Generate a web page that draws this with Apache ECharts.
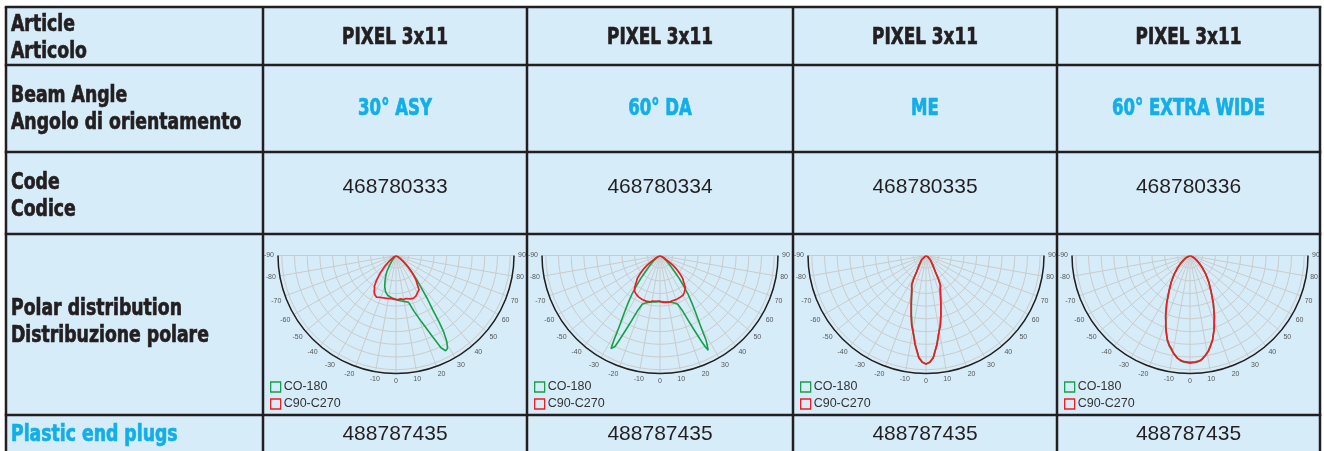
<!DOCTYPE html>
<html><head><meta charset="utf-8">
<script src="https://cdn.jsdelivr.net/npm/echarts@6/dist/echarts.min.js"></script>
<style>html,body{margin:0;padding:0;background:#fff;}#c{width:1324px;height:451px;}</style>
</head><body><div id="c"></div>
<script>
// ---------- table content ----------
const rowLabels = [['Article', 'Articolo'], ['Beam Angle', 'Angolo di orientamento'], ['Code', 'Codice'], ['Polar distribution', 'Distribuzione polare'], ['Plastic end plugs']];
const articles = ['PIXEL 3x11', 'PIXEL 3x11', 'PIXEL 3x11', 'PIXEL 3x11'];
const beamAngles = ['30° ASY', '60° DA', 'ME', '60° EXTRA WIDE'];
const codes = ['468780333', '468780334', '468780335', '468780336'];
const plugs = ['488787435', '488787435', '488787435', '488787435'];
const seriesNames = ['CO-180', 'C90-C270'];
const angleTickLabels = ['-90','-80','-70','-60','-50','-40','-30','-20','-10','0','10','20','30','40','50','60','70','80','90'];

// ---------- polar curves: [angle (deg), intensity] ----------
const asyC0 = [[-90,0],[-60,0.5],[-45,1.9],[-38,4.7],[-33,9.3],[-30,14],[-27,17.7],[-23,22.3],[-20,26],[-16,29.8],[-12,32],[-6,33.5],[0,34.4],[5,35.8],[10,36.7],[15,38.1],[18,46.5],[21,55.8],[24,68.8],[26,80.9],[27.5,84.6],[29,83.7],[30.5,79],[32,70.7],[33,62.3],[34,52],[36,41.9],[38,32.6],[41,24.2],[44,17.7],[47,12],[50,7.4],[55,2.8],[60,0.9],[90,0]];
const asyC90 = [[-90,0],[-60,0.9],[-55,2.8],[-50,6.5],[-46,12.1],[-42,18.6],[-38,25.1],[-35,29.8],[-33,31],[-31,33.5],[-30,32.8],[-28,35.3],[-25,36.2],[-23,35.9],[-20,35.2],[-18,34.9],[-14,34.6],[-10,34.4],[-8,35.2],[-6,34.2],[-4,35],[-2,34.6],[0,35.6],[2,35],[4,34.2],[6,34.4],[8,35.4],[10,35.2],[13,34.8],[15,35.3],[18,35.9],[20,35.8],[22,36.4],[24,35.5],[26,35.7],[28,35],[31,33.5],[33,33.9],[34,32.5],[36,28.8],[39,25.1],[42,20.5],[45,15.8],[48,11.2],[51,7.4],[55,3.7],[60,1.4],[90,0]];
const daC0 = [[-90,0],[-60,1.4],[-55,3.3],[-50,6.5],[-45,12.1],[-42,17.7],[-40,23.3],[-38,29.8],[-35.8,38.1],[-34,44.6],[-32.2,52.1],[-31,57.7],[-29.6,66],[-28.5,76.3],[-27.8,82.8],[-27,83.7],[-26.3,80],[-25.5,72.5],[-24.5,63.2],[-23.5,55.8],[-22,46.5],[-20,40.9],[-17,39.1],[-14,38.1],[-10,37.2],[-5,36.7],[0,36.3],[5,36.7],[10,37.2],[14,38.1],[17,39.1],[20,40.9],[22,46.5],[23.5,55.8],[24.5,63.2],[25.5,72.5],[26.3,80],[27,83.7],[27.8,82.8],[28.5,76.3],[29.6,66],[31,57.7],[32.2,52.1],[34,44.6],[35.8,38.1],[38,29.8],[40,23.3],[42,17.7],[45,12.1],[50,6.5],[55,3.3],[60,1.4],[90,0]];
const daC90 = [[-90,0],[-62,1.4],[-58,4.2],[-55,8.4],[-53,13],[-50,17.7],[-48,20.5],[-45,25.1],[-41,28.8],[-38,32.6],[-36,33.5],[-35,34.8],[-34,33.6],[-33,35.3],[-31,36],[-30,36.3],[-27,36.8],[-25,36.4],[-22,37.4],[-20,36.9],[-17,37.6],[-15,36.8],[-12,37.3],[-9,36.4],[-7,37.4],[-5,36.2],[-3,37],[-1,36],[0,37.5],[1,36.2],[3,36.9],[5,36.1],[7,37.2],[9,36.5],[12,37.4],[15,36.9],[17,37.6],[20,37],[22,37.5],[25,36.6],[27,36.9],[30,36.2],[31,35.5],[32,36.4],[33,35],[35,33.9],[36,34.3],[38,32.6],[41,28.8],[45,25.1],[48,20.5],[50,17.7],[53,13],[55,8.4],[58,4.2],[62,1.4],[90,0]];
const meC0 = [[-90,0],[-65,0.7],[-55,1.9],[-45,4.7],[-40,6.5],[-35,9.3],[-30,14.6],[-28,20.5],[-26,25.6],[-23,28.4],[-20,33],[-17,39.4],[-14,47.6],[-11.7,55.2],[-9.5,61],[-7,70.2],[-4,80.3],[-2,84],[0,85.6],[2,84.2],[4,80.9],[7,70.7],[9.5,61.4],[11.7,55.8],[14,48.4],[17,40],[20,33.5],[23,28.8],[26,26],[28,20.5],[30,14.6],[35,9.3],[40,6.5],[45,4.7],[55,1.9],[65,0.7],[90,0]];
const meC90 = [[-90,0],[-65,0.7],[-55,1.9],[-45,4.7],[-40,6.5],[-35,9.3],[-30,14.6],[-28,20.5],[-26,26],[-23,28.8],[-20,33.5],[-17,40],[-14,48.4],[-11.7,55.8],[-9.5,61.4],[-7,70.7],[-4,80.9],[-2,84.2],[0,85.6],[2,84.2],[4,80.9],[7,70.7],[9.5,61.4],[11.7,55.8],[14,48.4],[17,40],[20,33.5],[23,28.8],[26,26],[28,20.5],[30,14.6],[35,9.3],[40,6.5],[45,4.7],[55,1.9],[65,0.7],[90,0]];
const ewC0 = [[-90,0],[-70,1.1],[-60,3.7],[-55,6],[-50,9.3],[-45,14],[-40,19.5],[-35,26],[-30,33.5],[-26,41.9],[-22,51.2],[-18,61.4],[-15,69.2],[-13,73],[-11,76],[-9,79],[-7,81.5],[-5,83.4],[-3,84.2],[0,84.8],[3,84.4],[5,83.6],[7,81.8],[9,79.4],[11,76.4],[13,72.8],[15,68.9],[18,61.4],[22,51.2],[26,41.9],[30,33.5],[35,26],[40,19.5],[45,14],[50,9.3],[55,6],[60,3.7],[70,1.1],[90,0]];
const ewC90 = [[-90,0],[-70,1.1],[-60,3.7],[-55,6],[-50,9.3],[-45,14],[-40,19.5],[-35,26],[-30,33.5],[-26,41.9],[-22,51.2],[-18,61.4],[-15,68.8],[-13,72.5],[-11,75.2],[-10,77.5],[-9,78.2],[-7,81.5],[-6,80.6],[-5,83],[-3,83.8],[-2,84.6],[0,84.2],[1,85.2],[3,84],[4,82.8],[6,83.1],[8,80.5],[9,79.6],[11,76.6],[13,72.5],[15,68.8],[18,61.4],[22,51.2],[26,41.9],[30,33.5],[35,26],[40,19.5],[45,14],[50,9.3],[55,6],[60,3.7],[70,1.1],[90,0]];
const curvesC0 = [asyC0, daC0, meC0, ewC0];
const curvesC90 = [asyC90, daC90, meC90, ewC90];

// ---------- layout ----------
const colX = [6, 263, 527, 793, 1057, 1320];
const rowY = [7, 65, 152, 234, 415, 470];
const centersX = [396, 660, 926, 1190];
const centerY = 255.5;
const R = 118;
const BG = '#d6edf9';
const LINE = '#231f20';
const CYAN = '#12aee8';
const GREEN = '#16a049';
const RED = '#ee1c24';
const GRID = '#cbcbcb';
const FAM = '"Liberation Sans", Arial, sans-serif';
const BOLDFAM = '"DejaVu Sans Condensed", "DejaVu Sans", sans-serif';

const boldStyle = (text, fill, align) => ({text, fill, stroke: fill, lineWidth: 0.7, align, verticalAlign: 'middle', fontFamily: BOLDFAM, fontSize: 23, fontWeight: 'bold', lineHeight: 27});
const numStyle = (text) => ({text, fill: LINE, align: 'center', verticalAlign: 'middle', fontFamily: FAM, fontSize: 21, fontWeight: 'normal'});

const graphic = [];
graphic.push({type: 'rect', z: -100, shape: {x: colX[0], y: rowY[0], width: colX[5] - colX[0], height: rowY[5] - rowY[0]}, style: {fill: BG}});
for (let i = 0; i < rowY.length - 1; i++) {
  graphic.push({type: 'line', z: 100, shape: {x1: colX[0] - 1.25, y1: rowY[i], x2: colX[5] + 1.25, y2: rowY[i]}, style: {stroke: LINE, lineWidth: 2.5}});
}
for (let j = 0; j < colX.length; j++) {
  graphic.push({type: 'line', z: 100, shape: {x1: colX[j], y1: rowY[0], x2: colX[j], y2: rowY[5]}, style: {stroke: LINE, lineWidth: 2.5}});
}
const labelCenters = [38.5, 110, 196.5, 323, 435];
rowLabels.forEach((lines, i) => {
  graphic.push({type: 'text', z: 100, x: 11, y: labelCenters[i], scaleX: 0.835,
    style: boldStyle(lines.join('\n'), i === 4 ? CYAN : LINE, 'left')});
});
const boldRows = [[articles, 38, LINE, 0.815], [beamAngles, 109.5, CYAN, 0.8]];
boldRows.forEach(([arr, y, color, sx]) => {
  arr.forEach((t, j) => {
    graphic.push({type: 'text', z: 100, x: (colX[j + 1] + colX[j + 2]) / 2, y: y, scaleX: sx, style: boldStyle(t, color, 'center')});
  });
});
const numRows = [[codes, 187.5], [plugs, 434.5]];
numRows.forEach(([arr, y]) => {
  arr.forEach((t, j) => {
    graphic.push({type: 'text', z: 100, x: (colX[j + 1] + colX[j + 2]) / 2, y: y, style: numStyle(t)});
  });
});

const polar = [], angleAxis = [], radiusAxis = [], series = [], legend = [];
centersX.forEach((cx, i) => {
  polar.push({center: [cx, centerY], radius: R});
  angleAxis.push({
    polarIndex: i, type: 'value', min: -90, max: 90, interval: 10,
    startAngle: 180, endAngle: 360, clockwise: false,
    axisLine: {lineStyle: {color: LINE, width: 1.5}},
    axisTick: {show: false},
    axisLabel: {fontSize: 7, color: '#555', margin: 4, fontFamily: FAM,
      formatter: v => angleTickLabels[Math.round((v + 90) / 10)]},
    splitLine: {show: true, lineStyle: {color: GRID, width: 1}}
  });
  radiusAxis.push({
    polarIndex: i, type: 'value', min: 0, max: 93, interval: 10,
    axisLine: {show: false}, axisTick: {show: false}, axisLabel: {show: false},
    splitLine: {show: true, lineStyle: {color: GRID, width: 1}}
  });
  series.push({name: seriesNames[0], type: 'line', coordinateSystem: 'polar', polarIndex: i, symbol: 'none', smooth: false,
    lineStyle: {color: GREEN, width: 1.6}, itemStyle: {color: GREEN}, silent: true, animation: false,
    data: curvesC0[i].map(p => [p[1], p[0]])});
  series.push({name: seriesNames[1], type: 'line', coordinateSystem: 'polar', polarIndex: i, symbol: 'none', smooth: false,
    lineStyle: {color: RED, width: 1.7}, itemStyle: {color: RED}, silent: true, animation: false,
    data: curvesC90[i].map(p => [p[1], p[0]])});
  legend.push({
    left: colX[i + 1] + 7, top: 380.5, orient: 'vertical', itemWidth: 10, itemHeight: 10, itemGap: 4, padding: 0,
    selectedMode: false, icon: 'rect',
    textStyle: {fontSize: 12.5, color: '#333', fontFamily: FAM, padding: [0, 0, 0, -2]},
    data: [
      {name: seriesNames[0], itemStyle: {color: 'transparent', borderColor: GREEN, borderWidth: 1.3}},
      {name: seriesNames[1], itemStyle: {color: 'transparent', borderColor: RED, borderWidth: 1.3}}
    ]
  });
});

const chart = echarts.init(document.getElementById('c'), null, {renderer: 'canvas'});
chart.setOption({
  animation: false,
  backgroundColor: '#ffffff',
  polar, angleAxis, radiusAxis, series, legend, graphic
});
</script>
</body></html>
